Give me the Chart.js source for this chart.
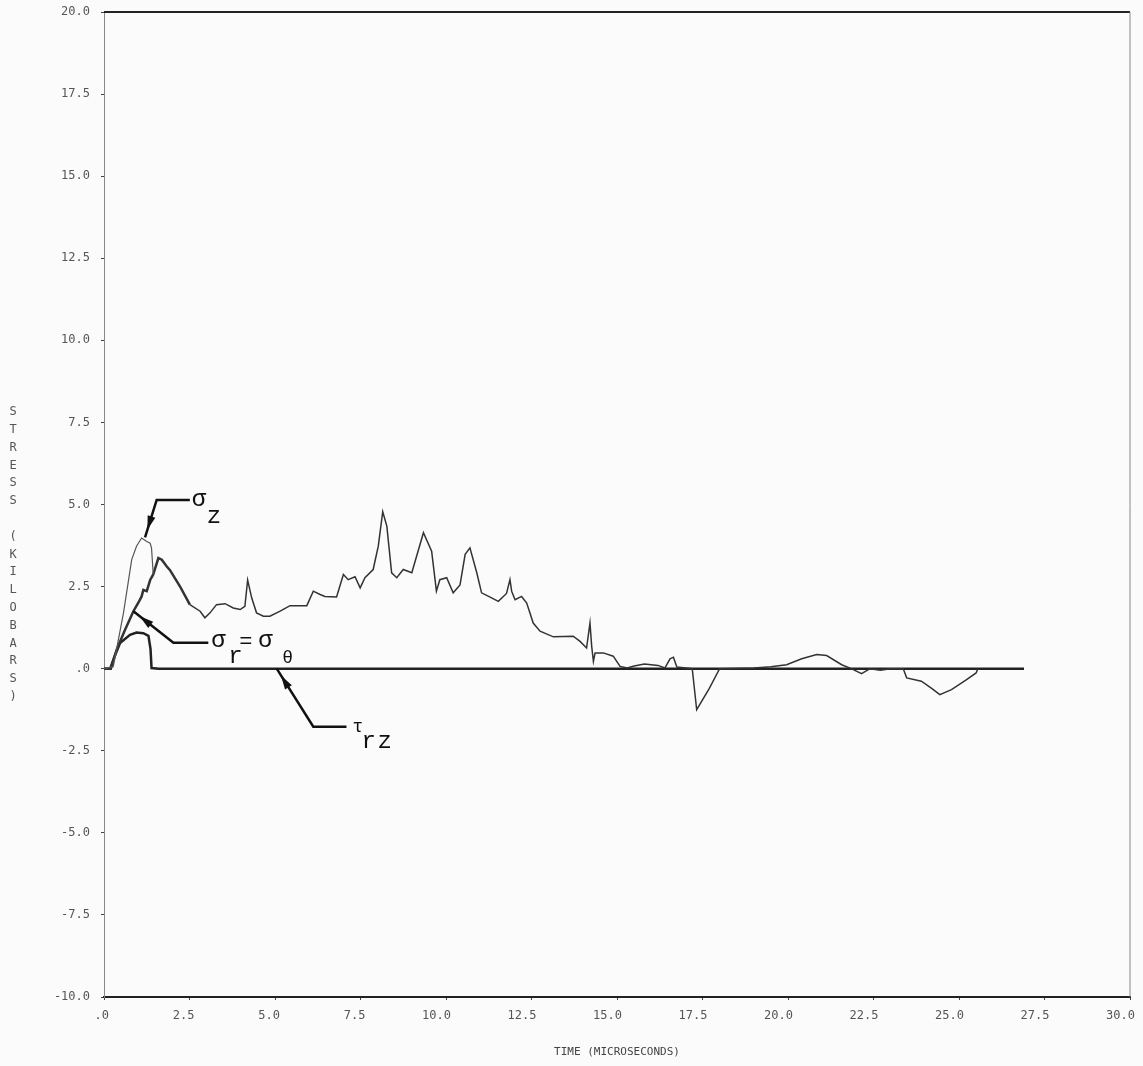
<!DOCTYPE html>
<html>
<head>
<meta charset="utf-8">
<script src="https://cdn.jsdelivr.net/npm/chart.js@4.4.1/dist/chart.umd.min.js"></script>
<style>
  body { margin: 0; background: #fbfbfb; }
  #wrap { width: 1143px; height: 1066px; }
</style>
</head>
<body>
<div id="wrap"><canvas id="target" width="1143" height="1066"></canvas></div>
<script>
// 応力の時刻歴
var sigmaZTime   = [0, 0.27, 0.57, 0.81, 0.95, 1.10, 1.25, 1.35, 1.39, 1.44];
var sigmaZStress = [0, 0.06, 1.70, 3.32, 3.73, 3.98, 3.87, 3.82, 3.67, 2.87];

var sigmaRTime = [0, 0.2, 0.37, 0.6, 0.86, 1.0, 1.10, 1.15, 1.25, 1.35, 1.44, 1.59, 1.69, 1.83, 1.93,
  2.22, 2.51, 2.81, 2.95, 3.10, 3.29, 3.54, 3.78, 3.98, 4.12, 4.2, 4.32, 4.46, 4.66, 4.85,
  5.15, 5.44, 5.93, 6.12, 6.32, 6.46, 6.80, 7.0, 7.14, 7.34, 7.49, 7.63, 7.87, 8.02, 8.15,
  8.27, 8.41, 8.56, 8.75, 9.0, 9.34, 9.58, 9.72, 9.82, 10.02, 10.21, 10.41, 10.56, 10.70, 10.90,
  11.04, 11.29, 11.53, 11.77, 11.87, 11.92, 12.02, 12.21, 12.36, 12.55, 12.75, 13.14, 13.72, 13.92, 14.11,
  14.21, 14.26, 14.31, 14.36, 14.6, 14.89, 15.09, 15.3, 15.5, 15.8, 16.2, 16.4, 16.55, 16.65, 16.75,
  17.2, 17.33, 17.7, 18.0, 19.0, 19.5, 19.96, 20.4, 20.84, 21.13, 21.57, 21.85, 22.15, 22.4, 22.7,
  23.0, 23.37, 23.47, 23.9, 24.2, 24.44, 24.78, 25.2, 25.5, 25.55];
var sigmaRStress = [0, 0, 0.58, 1.15, 1.75, 2.0, 2.2, 2.4, 2.36, 2.7, 2.87, 3.37, 3.32, 3.12, 3.0,
  2.51, 1.95, 1.75, 1.55, 1.70, 1.95, 1.98, 1.85, 1.80, 1.9, 2.7, 2.15, 1.7, 1.6, 1.6,
  1.75, 1.92, 1.92, 2.36, 2.26, 2.2, 2.18, 2.87, 2.71, 2.8, 2.46, 2.77, 3.02, 3.73, 4.78,
  4.34, 2.92, 2.77, 3.02, 2.92, 4.14, 3.58, 2.36, 2.71, 2.77, 2.31, 2.55, 3.48, 3.68, 2.92,
  2.31, 2.18, 2.05, 2.29, 2.71, 2.36, 2.1, 2.2, 2.0, 1.39, 1.14, 0.97, 0.99, 0.83, 0.63,
  1.39, 0.68, 0.22, 0.48, 0.48, 0.38, 0.07, 0.02, 0.08, 0.14, 0.1, 0.02, 0.3, 0.35, 0.05,
  0, -1.25, -0.6, 0, 0.02, 0.06, 0.12, 0.3, 0.43, 0.4, 0.12, 0, -0.15, 0, -0.05,
  0, 0, -0.28, -0.38, -0.6, -0.79, -0.64, -0.35, -0.13, 0];

var tauTime   = [0, 0.18, 0.3, 0.47, 0.76, 0.95, 1.15, 1.30, 1.36, 1.39, 1.6, 26.9];
var tauStress = [0, 0, 0.35, 0.78, 1.03, 1.1, 1.08, 1.0, 0.6, 0.02, 0, 0];

var xTicks = [0, 2.5, 5, 7.5, 10, 12.5, 15, 17.5, 20, 22.5, 25, 27.5, 30];
var yTicks = [-10, -7.5, -5, -2.5, 0, 2.5, 5, 7.5, 10, 12.5, 15, 17.5, 20];

function toPoints(ts, vs) {
  return ts.map(function (t, i) { return { x: t, y: vs[i] }; });
}

function tickText(v) {
  return v === 0 ? '.0' : v.toFixed(1);
}

// 引き出し線とラベル
var callouts = [
  { tip: [1.2, 4.0], elbow: [1.54, 5.14], endT: 2.51,
    glyphs: [['σ', 2, 6, 24], ['z', 17, 23, 24]] },
  { tip: [0.86, 1.75], elbow: [2.03, 0.79], endT: 3.05,
    glyphs: [['σ', 3, 4, 24], ['r', 20, 20, 24], ['=', 31, 5, 22], ['σ', 50, 4, 24], ['θ', 74, 20, 18]] },
  { tip: [5.05, 0], elbow: [6.12, -1.77], endT: 7.09,
    glyphs: [['τ', 6, 5, 18], ['r', 15, 21, 24], ['z', 31, 21, 24]] }
];

var calloutPlugin = {
  id: 'callouts',
  afterDatasetsDraw: function (chart) {
    var ctx = chart.ctx, xs = chart.scales.x, ys = chart.scales.y;
    var area = chart.chartArea;

    // 枠の上辺と右辺
    ctx.save();
    ctx.strokeStyle = '#222';
    ctx.lineWidth = 2;
    ctx.beginPath();
    ctx.moveTo(area.left, area.top);
    ctx.lineTo(area.right, area.top);
    ctx.stroke();
    ctx.strokeStyle = '#888';
    ctx.lineWidth = 1;
    ctx.beginPath();
    ctx.moveTo(area.right, area.top);
    ctx.lineTo(area.right, area.bottom);
    ctx.stroke();

    callouts.forEach(function (c) {
      var tx = xs.getPixelForValue(c.tip[0]), ty = ys.getPixelForValue(c.tip[1]);
      var ex = xs.getPixelForValue(c.elbow[0]), ey = ys.getPixelForValue(c.elbow[1]);
      var fx = xs.getPixelForValue(c.endT);
      ctx.strokeStyle = '#111';
      ctx.lineWidth = 2.5;
      ctx.beginPath();
      ctx.moveTo(tx, ty);
      ctx.lineTo(ex, ey);
      ctx.lineTo(fx, ey);
      ctx.stroke();

      // 矢印
      var ang = Math.atan2(ty - ey, tx - ex);
      var len = Math.hypot(tx - ex, ty - ey);
      var back = Math.min(8, len * 0.2);
      var ax = tx - Math.cos(ang) * back, ay = ty - Math.sin(ang) * back;
      ctx.fillStyle = '#111';
      ctx.beginPath();
      ctx.moveTo(ax, ay);
      ctx.lineTo(ax - Math.cos(ang) * 14 + Math.sin(ang) * 4, ay - Math.sin(ang) * 14 - Math.cos(ang) * 4);
      ctx.lineTo(ax - Math.cos(ang) * 14 - Math.sin(ang) * 4, ay - Math.sin(ang) * 14 + Math.cos(ang) * 4);
      ctx.closePath();
      ctx.fill();

      ctx.textBaseline = 'alphabetic';
      ctx.textAlign = 'left';
      c.glyphs.forEach(function (g) {
        ctx.font = g[3] + 'px "Liberation Mono", monospace';
        ctx.fillText(g[0], fx + g[1], ey + g[2]);
      });
    });

    // 縦軸タイトル（1文字ずつ縦に並べる）
    var title = 'STRESS (KILOBARS)';
    ctx.fillStyle = '#555';
    ctx.font = '12px "DejaVu Sans Mono", monospace';
    ctx.textAlign = 'center';
    ctx.textBaseline = 'middle';
    for (var i = 0; i < title.length; i++) {
      ctx.fillText(title[i], 13, 412 + i * 17.8);
    }
    ctx.restore();
  }
};

var ctx = document.getElementById('target').getContext('2d');

new Chart(ctx, {
  type: 'line',
  data: {
    datasets: [
      {
        label: 'σz',
        data: toPoints(sigmaZTime, sigmaZStress),
        borderColor: '#555',
        borderWidth: 1.2,
        pointRadius: 0,
        fill: false
      },
      {
        label: 'σr=σθ',
        data: toPoints(sigmaRTime, sigmaRStress),
        borderColor: '#333',
        borderWidth: 1.5,
        pointRadius: 0,
        fill: false,
        segment: {
          borderWidth: function (c) { return c.p0.parsed.x < 2.3 ? 2.5 : 1.5; }
        }
      },
      {
        label: 'τrz',
        data: toPoints(tauTime, tauStress),
        borderColor: '#222',
        borderWidth: 2.5,
        pointRadius: 0,
        fill: false
      }
    ]
  },
  options: {
    responsive: false,
    animation: false,
    layout: { padding: { left: 0, top: 12, right: 13, bottom: 0 } },
    plugins: {
      legend: { display: false },
      tooltip: { enabled: false }
    },
    scales: {
      x: {
        type: 'linear',
        min: 0,
        max: 30,
        afterBuildTicks: function (s) { s.ticks = xTicks.map(function (v) { return { value: v }; }); },
        afterFit: function (s) { s.height = 69; s.paddingLeft = 0; s.paddingRight = 0; },
        grid: { drawOnChartArea: false, tickLength: 3, color: '#444' },
        border: { display: true, color: '#222', width: 2 },
        ticks: {
          autoSkip: false,
          maxRotation: 0,
          align: 'end',
          labelOffset: 5,
          padding: 9,
          color: '#555',
          font: { family: '"DejaVu Sans Mono", monospace', size: 12 },
          callback: tickText
        },
        title: {
          display: true,
          text: 'TIME (MICROSECONDS)',
          color: '#444',
          font: { family: '"DejaVu Sans Mono", monospace', size: 11 },
          padding: { top: 0, bottom: 7 }
        }
      },
      y: {
        type: 'linear',
        min: -10,
        max: 20,
        afterBuildTicks: function (s) { s.ticks = yTicks.map(function (v) { return { value: v }; }); },
        afterFit: function (s) { s.width = 104; s.paddingTop = 0; s.paddingBottom = 0; },
        grid: { drawOnChartArea: false, tickLength: 3, color: '#444' },
        border: { display: true, color: '#888', width: 1 },
        ticks: {
          autoSkip: false,
          padding: 11,
          color: '#555',
          font: { family: '"DejaVu Sans Mono", monospace', size: 12 },
          callback: tickText
        }
      }
    }
  },
  plugins: [calloutPlugin]
});
</script>
</body>
</html>
